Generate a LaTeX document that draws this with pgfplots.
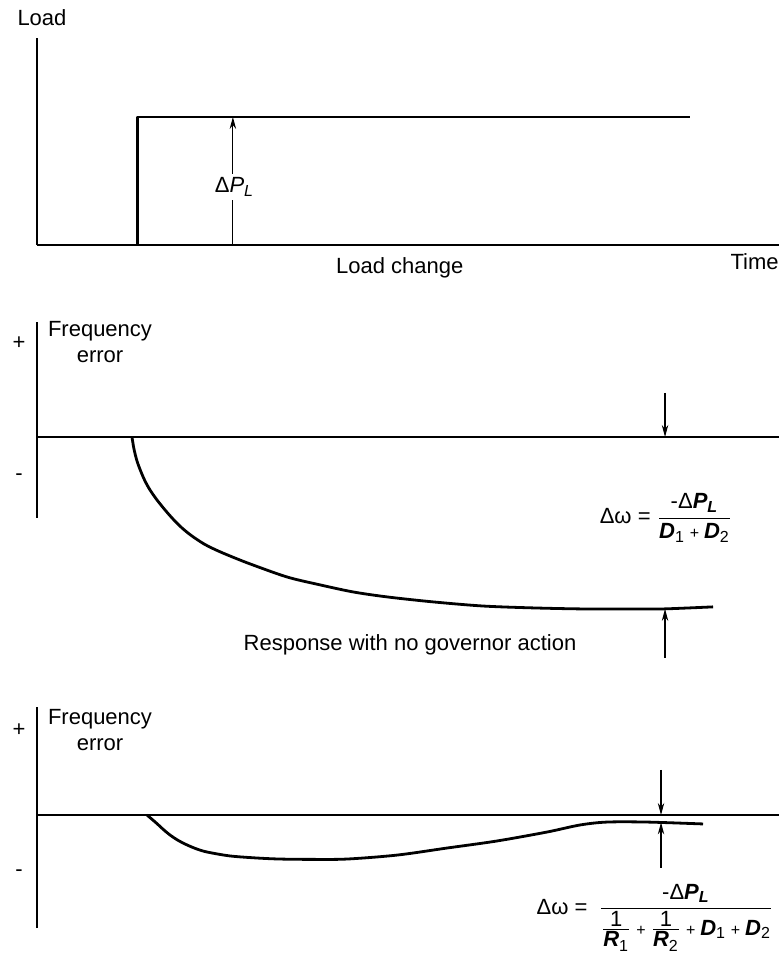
\documentclass[border=0pt]{standalone}
\usepackage{pgfplots}
\pgfplotsset{compat=1.18}
\usepackage{fontspec}
\setmainfont{Liberation Sans}
\usetikzlibrary{arrows.meta}
\newcommand{\bi}[1]{\mbox{\bfseries\itshape #1}}
\newcommand{\sbi}[1]{\mbox{\footnotesize\bfseries\itshape #1}}
\newcommand{\sub}[1]{\mbox{\footnotesize #1}}
\newcommand{\pl}{\mathbin{\mbox{\footnotesize +}}}
\begin{document}
\fontsize{11}{13}\selectfont
\begin{tikzpicture}
\useasboundingbox (0,0) rectangle (389.5pt,-479pt);
\pgfplotsset{
  panel/.style={scale only axis, width=371pt, xmin=0, xmax=10, ticks=none, clip=false},
  noarr/.style={axis line style={-},
    every inner x axis line/.append style={-}, every outer x axis line/.append style={-},
    every inner y axis line/.append style={-}, every outer y axis line/.append style={-},
    x axis line style={-, line width=1.4pt}, y axis line style={-, line width=1pt}},
  curve/.style={black, line width=1.4pt, line join=round},
  arr/.style={black, line width=0.55pt, -{Stealth[length=6pt,width=3.2pt]}},
}
% ---------------- Panel 1: load change ----------------
\begin{axis}[panel, at={(18.5pt,-122.5pt)}, anchor=origin, height=103.5pt,
  ymin=0, ymax=1.617, axis lines=left, noarr]
\addplot[curve] coordinates {(0,0) (1.35,0) (1.35,1) (8.8,1)};
\addplot[arr] coordinates {(2.64,0) (2.64,1)};
\node[fill=white, inner sep=1.5pt] at (axis cs:2.655,0.453) {Δ\itshape P\raisebox{-0.35ex}{\footnotesize L}};
\node at (axis cs:0.067,1.773) {Load};
\node[anchor=east, inner sep=0pt] at (axis cs:10,-0.133) {Time};
\node at (axis cs:4.89,-0.18) {Load change};
\end{axis}
% ---------------- Panel 2: no governor ----------------
\begin{axis}[panel, at={(18.5pt,-218.5pt)}, anchor=origin, height=98pt,
  ymin=-0.471, ymax=0.669, axis x line=middle, axis y line=left, noarr]
\addplot[curve, smooth] coordinates {
 (1.280,0) (1.307,-0.070) (1.348,-0.140) (1.402,-0.203) (1.456,-0.256)
 (1.523,-0.308) (1.617,-0.366) (1.725,-0.424) (1.833,-0.477) (1.954,-0.529)
 (2.089,-0.576) (2.251,-0.622) (2.412,-0.657) (2.601,-0.692) (2.871,-0.738)
 (3.369,-0.814) (3.814,-0.860) (4.259,-0.901) (4.717,-0.930) (5.337,-0.959)
 (6.011,-0.983) (6.685,-0.994) (7.358,-1.000) (8.032,-1.000) (8.437,-1.000)
 (9.111,-0.988)};
\addplot[arr] coordinates {(8.464,0.256) (8.464,0)};
\addplot[arr] coordinates {(8.464,-1.285) (8.464,-1.0)};
\node at (axis cs:-0.243,0.547) {+};
\node at (axis cs:-0.243,-0.233) {-};
\node[align=center, inner sep=0pt] at (axis cs:0.849,0.552) {Frequency\\error};
\node at (axis cs:8.477,-0.471) {Δω = $\displaystyle\frac{\mbox{-Δ}\bi{P}_{\sbi{L}}}{\bi{D}_{\sub{1}} \pl \bi{D}_{\sub{2}}}$};
\node at (axis cs:5.027,-1.209) {Response with no governor action};
\end{axis}
% ---------------- Panel 3: with governor ----------------
\begin{axis}[panel, at={(18.5pt,-407.5pt)}, anchor=origin, height=110.5pt,
  ymin=-0.657, ymax=0.628, axis x line=middle, axis y line=left, noarr]
\addplot[curve, smooth] coordinates {
 (1.482,0) (1.550,-0.025) (1.617,-0.050) (1.705,-0.085) (1.792,-0.116)
 (1.900,-0.147) (2.022,-0.174) (2.150,-0.197) (2.291,-0.215)
 (2.601,-0.238) (2.965,-0.250) (3.275,-0.256) (3.700,-0.258) (4.178,-0.256)
 (4.852,-0.233) (5.526,-0.192) (6.199,-0.151) (6.873,-0.099) (7.318,-0.058)
 (7.682,-0.041) (8.221,-0.041) (8.976,-0.052)};
\addplot[arr] coordinates {(8.410,0.262) (8.410,0)};
\addplot[arr] coordinates {(8.410,-0.308) (8.410,-0.043)};
\node at (axis cs:-0.243,0.494) {+};
\node at (axis cs:-0.243,-0.337) {-};
\node[align=center, inner sep=0pt] at (axis cs:0.849,0.494) {Frequency\\error};
\node at (axis cs:8.329,-0.599) {Δω =\hspace{0.5em}$\displaystyle\frac{\mbox{-Δ}\bi{P}_{\sbi{L}}}{\frac{\mbox{1}}{\bi{R}_{\sub{1}}} \pl \frac{\mbox{1}}{\bi{R}_{\sub{2}}} \pl \bi{D}_{\sub{1}} \pl \bi{D}_{\sub{2}}}$};
\end{axis}
\end{tikzpicture}
\end{document}
